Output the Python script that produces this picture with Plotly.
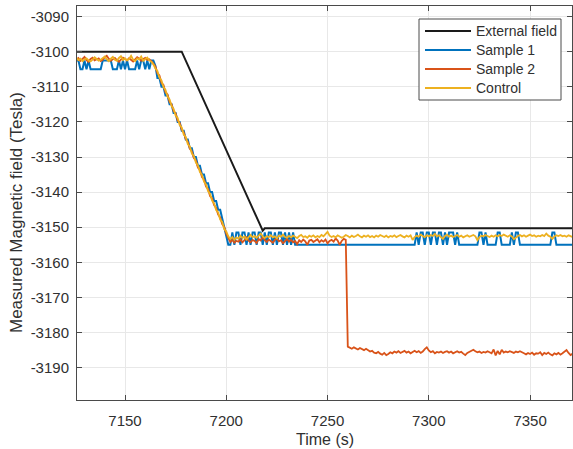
import plotly.graph_objects as go

# Time base (s), one reading per second
t_start = 7126
t_end = 7371
time_s = list(range(t_start, t_end + 1))

# External field setpoint breakpoints
ext_time = [7126, 7178, 7218, 7219, 7371]
ext_field = [-3100.0, -3100.0, -3151.0, -3150.3, -3150.3]

sample1 = [
    # 7126-7164
    -3102.5, -3102.5, -3105.0, -3105.0, -3102.5, -3105.0, -3102.5, -3105.0, -3105.0, -3105.0,
    -3105.0, -3105.0, -3105.0, -3102.5, -3102.5, -3102.5, -3102.5, -3102.5, -3105.0, -3105.0,
    -3105.0, -3102.5, -3105.0, -3102.5, -3105.0, -3102.5, -3105.0, -3105.0, -3105.0, -3105.0,
    -3102.5, -3105.0, -3102.5, -3102.5, -3105.0, -3102.5, -3105.0, -3102.5, -3102.5,
    # 7165-7201
    -3104.0, -3107.5, -3107.5, -3110.0, -3110.0, -3112.5, -3112.5, -3115.0, -3115.0, -3117.5,
    -3117.5, -3120.0, -3120.0, -3122.5, -3122.5, -3125.0, -3125.0, -3127.5, -3127.5, -3130.0,
    -3130.0, -3132.5, -3132.5, -3135.0, -3135.0, -3137.5, -3137.5, -3140.0, -3140.0, -3142.5,
    -3142.5, -3145.0, -3145.0, -3147.5, -3150.0, -3152.5, -3155.0,
    # 7202-7371
    -3155.0, -3151.5, -3155.0, -3151.5, -3151.5, -3155.0, -3151.5, -3151.5, -3155.0, -3151.5,
    -3155.0, -3151.5, -3151.5, -3155.0, -3151.5, -3151.5, -3155.0, -3151.5, -3155.0, -3151.5,
    -3151.5, -3155.0, -3151.5, -3155.0, -3151.5, -3151.5, -3155.0, -3151.5, -3155.0, -3151.5,
    -3155.0, -3151.5, -3155.0, -3155.0, -3155.0, -3155.0, -3155.0, -3155.0, -3155.0, -3155.0,
    -3155.0, -3155.0, -3155.0, -3155.0, -3155.0, -3155.0, -3155.0, -3155.0, -3155.0, -3155.0,
    -3155.0, -3155.0, -3155.0, -3155.0, -3155.0, -3155.0, -3155.0, -3155.0, -3155.0, -3155.0,
    -3155.0, -3155.0, -3155.0, -3155.0, -3155.0, -3155.0, -3155.0, -3155.0, -3155.0, -3155.0,
    -3155.0, -3155.0, -3155.0, -3155.0, -3155.0, -3155.0, -3155.0, -3155.0, -3155.0, -3155.0,
    -3155.0, -3155.0, -3155.0, -3155.0, -3155.0, -3155.0, -3155.0, -3155.0, -3155.0, -3155.0,
    -3155.0, -3155.0, -3151.5, -3155.0, -3151.5, -3151.5, -3155.0, -3151.5, -3151.5, -3155.0,
    -3151.5, -3151.5, -3155.0, -3151.5, -3151.5, -3155.0, -3151.5, -3155.0, -3151.5, -3151.5,
    -3151.5, -3155.0, -3151.5, -3155.0, -3155.0, -3155.0, -3155.0, -3155.0, -3155.0, -3155.0,
    -3155.0, -3155.0, -3155.0, -3151.5, -3151.5, -3155.0, -3151.5, -3155.0, -3155.0, -3155.0,
    -3155.0, -3155.0, -3151.5, -3151.5, -3155.0, -3155.0, -3155.0, -3155.0, -3155.0, -3151.5,
    -3155.0, -3151.5, -3151.5, -3155.0, -3155.0, -3155.0, -3155.0, -3155.0, -3155.0, -3155.0,
    -3155.0, -3155.0, -3155.0, -3155.0, -3155.0, -3155.0, -3155.0, -3155.0, -3155.0, -3151.5,
    -3151.5, -3155.0, -3155.0, -3155.0, -3155.0, -3155.0, -3155.0, -3155.0, -3155.0, -3155.0,
]

sample2 = [
    # 7126-7164
    -3102.3, -3101.8, -3102.6, -3102.0, -3101.5, -3102.4, -3102.9, -3102.1, -3101.7, -3102.5,
    -3102.2, -3101.9, -3102.7, -3102.3, -3101.6, -3101.2, -3102.0, -3102.6, -3102.2, -3101.8,
    -3102.4, -3102.9, -3102.3, -3101.7, -3102.1, -3102.5, -3101.9, -3102.3, -3102.8, -3102.2,
    -3101.6, -3102.0, -3102.6, -3102.1, -3101.8, -3102.4, -3102.2, -3102.7, -3103.4,
    # 7165-7201
    -3104.2, -3106.1, -3106.8, -3108.9, -3109.5, -3111.6, -3112.2, -3114.3, -3115.0, -3116.9,
    -3117.6, -3119.6, -3120.3, -3122.2, -3123.0, -3124.9, -3125.7, -3127.6, -3128.4, -3130.3,
    -3131.0, -3133.0, -3133.7, -3135.7, -3136.4, -3138.4, -3139.1, -3141.1, -3141.8, -3143.7,
    -3144.5, -3146.4, -3147.2, -3149.1, -3149.9, -3151.8, -3153.3,
    # 7202-7259
    -3154.2, -3153.6, -3154.4, -3153.9, -3154.1, -3153.5, -3154.3, -3153.7, -3152.9, -3153.8,
    -3154.3, -3153.6, -3153.9, -3154.5, -3153.4, -3153.8, -3152.8, -3153.7, -3154.2, -3153.5,
    -3153.9, -3154.4, -3153.6, -3153.2, -3154.0, -3153.7, -3154.6, -3153.8, -3153.3, -3154.1,
    -3153.6, -3154.3, -3153.9, -3154.8, -3153.7, -3154.2, -3153.5, -3154.0, -3155.0, -3153.8,
    -3153.6, -3154.2, -3153.9, -3153.4, -3154.3, -3153.7, -3154.1, -3153.5, -3154.6, -3153.9,
    -3153.6, -3154.1, -3153.2, -3153.8, -3155.0, -3153.9, -3153.3, -3153.6,
    # 7260-7371
    -3184.0,
    -3184.3, -3184.6, -3184.2, -3184.5, -3184.8, -3184.4, -3184.7, -3185.0, -3184.6, -3185.1,
    -3185.4, -3185.2, -3185.7, -3185.9, -3185.5, -3186.0, -3186.3, -3185.8, -3186.4, -3186.1,
    -3185.6, -3185.9, -3185.4, -3185.7, -3185.3, -3185.8, -3185.5, -3185.2, -3185.7, -3185.4,
    -3185.9, -3185.5, -3185.2, -3185.6, -3185.3, -3185.8, -3185.4, -3184.7, -3184.2, -3185.1,
    -3185.6, -3185.3, -3185.9, -3185.5, -3185.7, -3185.4, -3185.8, -3185.5, -3185.3, -3185.7,
    -3185.4, -3185.9, -3185.6, -3185.3, -3185.7, -3185.5, -3186.0, -3186.4, -3185.8, -3185.5,
    -3185.2, -3184.9, -3185.3, -3185.6, -3185.4, -3185.8, -3185.5, -3185.7, -3185.3, -3185.6,
    -3185.9, -3184.8, -3186.5, -3185.2, -3186.2, -3184.9, -3185.7, -3185.4, -3185.6, -3185.3,
    -3185.5, -3185.8, -3185.4, -3185.6, -3185.3, -3185.7, -3185.9, -3186.2, -3185.8, -3186.1,
    -3185.7, -3186.3, -3185.9, -3186.0, -3185.6, -3186.4, -3185.8, -3186.1, -3185.7, -3186.2,
    -3186.5, -3185.9, -3186.2, -3185.8, -3186.3, -3185.9, -3185.4, -3185.0, -3185.8, -3186.4,
    -3186.0,
]

control = [
    # 7126-7164
    -3101.8, -3102.4, -3102.0, -3102.7, -3102.2, -3101.9, -3102.5, -3102.8, -3102.3, -3101.6,
    -3102.1, -3102.6, -3102.3, -3101.9, -3101.4, -3102.2, -3102.7, -3102.0, -3101.5, -3102.3,
    -3102.6, -3101.8, -3101.3, -3102.4, -3101.9, -3102.5, -3102.1, -3101.2, -3102.3, -3102.7,
    -3101.9, -3102.2, -3101.4, -3102.6, -3102.0, -3101.7, -3102.5, -3102.9, -3103.6,
    # 7165-7201
    -3104.8, -3105.5, -3107.4, -3108.2, -3110.1, -3110.9, -3112.8, -3113.6, -3115.5, -3116.3,
    -3118.2, -3118.9, -3120.9, -3121.6, -3123.6, -3124.3, -3126.3, -3127.0, -3129.0, -3129.7,
    -3131.6, -3132.4, -3134.3, -3135.1, -3137.0, -3137.8, -3139.7, -3140.5, -3142.4, -3143.2,
    -3145.1, -3145.8, -3147.8, -3148.5, -3150.5, -3151.2, -3152.6,
    # 7202-7371
    -3153.4, -3152.8, -3153.6, -3152.9, -3153.3, -3152.4, -3153.1, -3152.6, -3153.5, -3152.7,
    -3152.2, -3152.9, -3152.5, -3153.0, -3152.4, -3151.8, -3152.6, -3153.1, -3152.5, -3152.8,
    -3152.3, -3152.9, -3152.6, -3153.2, -3152.4, -3152.7, -3152.1, -3152.8, -3153.0, -3152.5,
    -3152.9, -3152.4, -3152.7, -3153.1, -3152.5, -3152.2, -3152.8, -3152.6, -3153.0, -3152.4,
    -3152.7, -3152.3, -3152.9, -3152.5, -3152.8, -3152.2, -3152.6, -3152.0, -3151.3, -3152.4,
    -3152.8, -3152.5, -3152.9, -3152.3, -3152.6, -3153.0, -3152.7, -3152.2, -3152.5, -3152.9,
    -3152.4, -3152.8, -3152.5, -3152.1, -3152.6, -3152.9, -3152.4, -3152.7, -3152.3, -3152.8,
    -3152.5, -3152.9, -3152.4, -3152.7, -3152.2, -3152.6, -3152.8, -3152.4, -3152.9, -3152.5,
    -3152.7, -3152.3, -3152.8, -3152.5, -3152.2, -3152.6, -3152.9, -3152.4, -3152.7, -3152.3,
    -3153.6, -3152.8, -3152.4, -3152.7, -3152.1, -3152.5, -3152.8, -3152.3, -3152.6, -3152.2,
    -3152.5, -3151.9, -3152.6, -3152.3, -3152.8, -3153.3, -3152.5, -3152.1, -3152.7, -3152.4,
    -3152.8, -3152.5, -3152.2, -3152.7, -3152.4, -3152.9, -3152.6, -3152.3, -3152.7, -3152.5,
    -3152.2, -3152.6, -3153.7, -3152.8, -3152.4, -3152.6, -3152.2, -3152.5, -3152.8, -3152.4,
    -3152.7, -3152.3, -3152.6, -3152.2, -3152.5, -3152.1, -3152.4, -3152.7, -3152.3, -3152.6,
    -3153.4, -3152.8, -3152.5, -3152.2, -3152.6, -3152.3, -3152.7, -3152.4, -3152.1, -3152.5,
    -3152.3, -3152.7, -3152.4, -3152.6, -3152.2, -3152.5, -3151.8, -3152.4, -3152.7, -3153.3,
    -3152.6, -3152.3, -3152.5, -3152.2, -3152.6, -3152.4, -3152.7, -3152.3, -3152.5, -3152.8,
]

series_names = ["External field", "Sample 1", "Sample 2", "Control"]
series_colors = ["#1a1a1a", "#0072BD", "#D95319", "#EDB120"]

x_tick_vals = [7150, 7200, 7250, 7300, 7350]
y_tick_vals = [-3090, -3100, -3110, -3120, -3130, -3140, -3150, -3160, -3170, -3180, -3190]
y_tick_text = ["-3090", "-3100", "-3110", "-3120", "-3130", "-3140", "-3150",
               "-3160", "-3170", "-3180", "-3190"]

x_range = [7126.3, 7370.7]
y_range = [-3199.2, -3087.0]

FONT = "Liberation Sans, Arial, sans-serif"
TEXT = "#303030"
AXIS = "#4a4a4a"
GRID = "#e8e8e8"

W, H = 573, 449
ML, MR, MT, MB = 77, 1, 6, 49
PW, PH = W - ML - MR, H - MT - MB


def px_x(px):
    return (px - ML) / PW


def px_y(py):
    return (H - MB - py) / PH


fig = go.Figure()
fig.add_trace(go.Scatter(x=ext_time, y=ext_field, mode="lines", name=series_names[0],
                         line=dict(color=series_colors[0], width=2)))
fig.add_trace(go.Scatter(x=time_s, y=sample1, mode="lines", name=series_names[1],
                         line=dict(color=series_colors[1], width=2)))
fig.add_trace(go.Scatter(x=time_s, y=sample2, mode="lines", name=series_names[2],
                         line=dict(color=series_colors[2], width=1.8)))
fig.add_trace(go.Scatter(x=time_s, y=control, mode="lines", name=series_names[3],
                         line=dict(color=series_colors[3], width=1.8)))

axis_common = dict(
    showline=True, linecolor=AXIS, linewidth=1, mirror="ticks",
    ticks="inside", ticklen=5, tickcolor=AXIS, tickwidth=1,
    showgrid=True, gridcolor=GRID, gridwidth=1, zeroline=False,
    tickfont=dict(family=FONT, size=15, color=TEXT),
)
fig.update_xaxes(range=x_range, tickvals=x_tick_vals, ticklabelstandoff=7, **axis_common)
fig.update_yaxes(range=y_range, tickvals=y_tick_vals, ticktext=y_tick_text,
                 ticklabelstandoff=4, **axis_common)

# Legend box drawn in the upper-right corner of the axes
shapes = [dict(type="rect", xref="paper", yref="paper",
               x0=px_x(419), x1=px_x(561), y0=px_y(100), y1=px_y(19),
               line=dict(color=AXIS, width=1), fillcolor="white", layer="above")]
annotations = []
row_y = [31, 50, 69, 88]
for name, color, ry in zip(series_names, series_colors, row_y):
    shapes.append(dict(type="line", xref="paper", yref="paper",
                       x0=px_x(425), x1=px_x(471), y0=px_y(ry), y1=px_y(ry),
                       line=dict(color=color, width=2), layer="above"))
    annotations.append(dict(xref="paper", yref="paper", x=px_x(474), y=px_y(ry),
                            text=name, showarrow=False, xanchor="left", yanchor="middle",
                            font=dict(family=FONT, size=14, color=TEXT)))

# Axis titles
annotations.append(dict(xref="paper", yref="paper", x=0.5, y=0, yshift=-39,
                        text="Time (s)", showarrow=False, xanchor="center", yanchor="middle",
                        font=dict(family=FONT, size=16, color=TEXT)))
annotations.append(dict(xref="paper", yref="paper", x=0, y=px_y(212.5), xshift=16.5 - ML,
                        text="Measured Magnetic field (Tesla)", showarrow=False, textangle=-90,
                        xanchor="center", yanchor="middle",
                        font=dict(family=FONT, size=17, color=TEXT)))

fig.update_layout(
    width=W, height=H,
    margin=dict(l=ML, r=MR, t=MT, b=MB, pad=0),
    paper_bgcolor="white", plot_bgcolor="white",
    showlegend=False,
    shapes=shapes, annotations=annotations,
)

fig.write_html("out.html")
